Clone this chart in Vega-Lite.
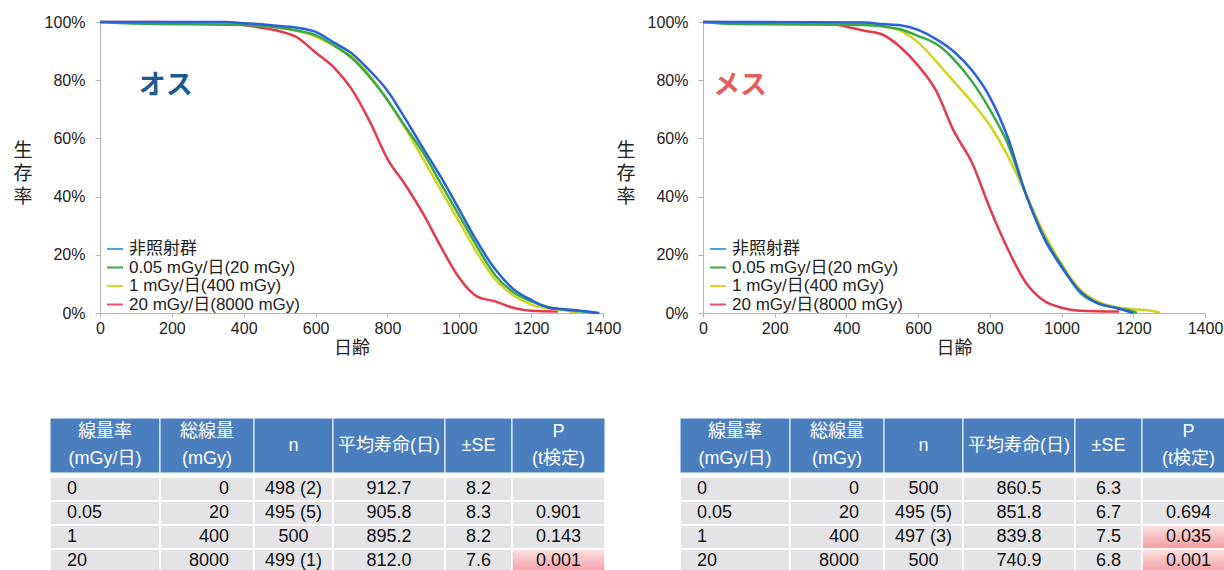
{
  "$schema": "https://vega.github.io/schema/vega-lite/v6.json",
  "background": "#ffffff",
  "padding": {"left": 13, "top": 14, "right": 0, "bottom": 0},
  "config": {
    "font": "Liberation Sans, Noto Sans CJK JP, sans-serif",
    "view": {"stroke": null},
    "axis": {"labelFont": "Liberation Sans, Noto Sans CJK JP, sans-serif", "labelFontSize": 16, "labelColor": "#222222", "domainColor": "#b5b5b5", "tickColor": "#b5b5b5", "grid": false, "titleFont": "Liberation Sans, Noto Sans CJK JP, sans-serif", "titleFontWeight": "normal", "titleColor": "#222222"},
    "legend": {"labelFont": "Liberation Sans, Noto Sans CJK JP, sans-serif"},
    "text": {"font": "Liberation Sans, Noto Sans CJK JP, sans-serif"}
  },
  "datasets": {
    "curves": [
      {"sex":"オス","group":"20 mGy/日(8000 mGy)","day":0,"surv":100},
      {"sex":"オス","group":"20 mGy/日(8000 mGy)","day":350,"surv":99.8},
      {"sex":"オス","group":"20 mGy/日(8000 mGy)","day":400,"surv":99},
      {"sex":"オス","group":"20 mGy/日(8000 mGy)","day":450,"surv":98},
      {"sex":"オス","group":"20 mGy/日(8000 mGy)","day":500,"surv":96.8},
      {"sex":"オス","group":"20 mGy/日(8000 mGy)","day":550,"surv":94.6},
      {"sex":"オス","group":"20 mGy/日(8000 mGy)","day":600,"surv":89.5},
      {"sex":"オス","group":"20 mGy/日(8000 mGy)","day":650,"surv":84.5},
      {"sex":"オス","group":"20 mGy/日(8000 mGy)","day":700,"surv":77},
      {"sex":"オス","group":"20 mGy/日(8000 mGy)","day":750,"surv":66},
      {"sex":"オス","group":"20 mGy/日(8000 mGy)","day":800,"surv":53},
      {"sex":"オス","group":"20 mGy/日(8000 mGy)","day":850,"surv":44},
      {"sex":"オス","group":"20 mGy/日(8000 mGy)","day":900,"surv":34},
      {"sex":"オス","group":"20 mGy/日(8000 mGy)","day":950,"surv":22.5},
      {"sex":"オス","group":"20 mGy/日(8000 mGy)","day":1000,"surv":12},
      {"sex":"オス","group":"20 mGy/日(8000 mGy)","day":1050,"surv":5.6},
      {"sex":"オス","group":"20 mGy/日(8000 mGy)","day":1100,"surv":4},
      {"sex":"オス","group":"20 mGy/日(8000 mGy)","day":1150,"surv":1.8},
      {"sex":"オス","group":"20 mGy/日(8000 mGy)","day":1200,"surv":0.75},
      {"sex":"オス","group":"20 mGy/日(8000 mGy)","day":1275,"surv":0.5},
      {"sex":"オス","group":"1 mGy/日(400 mGy)","day":0,"surv":100},
      {"sex":"オス","group":"1 mGy/日(400 mGy)","day":400,"surv":99.5},
      {"sex":"オス","group":"1 mGy/日(400 mGy)","day":500,"surv":98},
      {"sex":"オス","group":"1 mGy/日(400 mGy)","day":550,"surv":97},
      {"sex":"オス","group":"1 mGy/日(400 mGy)","day":600,"surv":95},
      {"sex":"オス","group":"1 mGy/日(400 mGy)","day":650,"surv":92},
      {"sex":"オス","group":"1 mGy/日(400 mGy)","day":700,"surv":88.2},
      {"sex":"オス","group":"1 mGy/日(400 mGy)","day":750,"surv":81.8},
      {"sex":"オス","group":"1 mGy/日(400 mGy)","day":800,"surv":73.2},
      {"sex":"オス","group":"1 mGy/日(400 mGy)","day":850,"surv":63.5},
      {"sex":"オス","group":"1 mGy/日(400 mGy)","day":900,"surv":52.8},
      {"sex":"オス","group":"1 mGy/日(400 mGy)","day":950,"surv":42},
      {"sex":"オス","group":"1 mGy/日(400 mGy)","day":1000,"surv":31.3},
      {"sex":"オス","group":"1 mGy/日(400 mGy)","day":1050,"surv":20.6},
      {"sex":"オス","group":"1 mGy/日(400 mGy)","day":1100,"surv":11.5},
      {"sex":"オス","group":"1 mGy/日(400 mGy)","day":1150,"surv":6.1},
      {"sex":"オス","group":"1 mGy/日(400 mGy)","day":1200,"surv":2.9},
      {"sex":"オス","group":"1 mGy/日(400 mGy)","day":1250,"surv":1.5},
      {"sex":"オス","group":"1 mGy/日(400 mGy)","day":1300,"surv":0.8},
      {"sex":"オス","group":"1 mGy/日(400 mGy)","day":1330,"surv":0},
      {"sex":"オス","group":"0.05 mGy/日(20 mGy)","day":0,"surv":100},
      {"sex":"オス","group":"0.05 mGy/日(20 mGy)","day":90,"surv":99.5},
      {"sex":"オス","group":"0.05 mGy/日(20 mGy)","day":400,"surv":99},
      {"sex":"オス","group":"0.05 mGy/日(20 mGy)","day":500,"surv":98},
      {"sex":"オス","group":"0.05 mGy/日(20 mGy)","day":550,"surv":97},
      {"sex":"オス","group":"0.05 mGy/日(20 mGy)","day":600,"surv":95.5},
      {"sex":"オス","group":"0.05 mGy/日(20 mGy)","day":650,"surv":92},
      {"sex":"オス","group":"0.05 mGy/日(20 mGy)","day":700,"surv":87.7},
      {"sex":"オス","group":"0.05 mGy/日(20 mGy)","day":750,"surv":81.2},
      {"sex":"オス","group":"0.05 mGy/日(20 mGy)","day":800,"surv":73.2},
      {"sex":"オス","group":"0.05 mGy/日(20 mGy)","day":850,"surv":64},
      {"sex":"オス","group":"0.05 mGy/日(20 mGy)","day":900,"surv":55},
      {"sex":"オス","group":"0.05 mGy/日(20 mGy)","day":950,"surv":44.2},
      {"sex":"オス","group":"0.05 mGy/日(20 mGy)","day":1000,"surv":33.5},
      {"sex":"オス","group":"0.05 mGy/日(20 mGy)","day":1050,"surv":22.7},
      {"sex":"オス","group":"0.05 mGy/日(20 mGy)","day":1100,"surv":13},
      {"sex":"オス","group":"0.05 mGy/日(20 mGy)","day":1150,"surv":7.2},
      {"sex":"オス","group":"0.05 mGy/日(20 mGy)","day":1200,"surv":4},
      {"sex":"オス","group":"0.05 mGy/日(20 mGy)","day":1250,"surv":2},
      {"sex":"オス","group":"0.05 mGy/日(20 mGy)","day":1300,"surv":1},
      {"sex":"オス","group":"0.05 mGy/日(20 mGy)","day":1350,"surv":0.4},
      {"sex":"オス","group":"0.05 mGy/日(20 mGy)","day":1380,"surv":0},
      {"sex":"オス","group":"非照射群","day":0,"surv":100},
      {"sex":"オス","group":"非照射群","day":350,"surv":100},
      {"sex":"オス","group":"非照射群","day":400,"surv":99.6},
      {"sex":"オス","group":"非照射群","day":450,"surv":99.2},
      {"sex":"オス","group":"非照射群","day":500,"surv":98.6},
      {"sex":"オス","group":"非照射群","day":550,"surv":98},
      {"sex":"オス","group":"非照射群","day":600,"surv":96.6},
      {"sex":"オス","group":"非照射群","day":650,"surv":93},
      {"sex":"オス","group":"非照射群","day":700,"surv":89.3},
      {"sex":"オス","group":"非照射群","day":750,"surv":83.4},
      {"sex":"オス","group":"非照射群","day":800,"surv":76.4},
      {"sex":"オス","group":"非照射群","day":850,"surv":66.7},
      {"sex":"オス","group":"非照射群","day":900,"surv":56.5},
      {"sex":"オス","group":"非照射群","day":950,"surv":46.5},
      {"sex":"オス","group":"非照射群","day":1000,"surv":35.5},
      {"sex":"オス","group":"非照射群","day":1050,"surv":24.5},
      {"sex":"オス","group":"非照射群","day":1100,"surv":15},
      {"sex":"オス","group":"非照射群","day":1150,"surv":8.3},
      {"sex":"オス","group":"非照射群","day":1200,"surv":4.5},
      {"sex":"オス","group":"非照射群","day":1250,"surv":1.8},
      {"sex":"オス","group":"非照射群","day":1300,"surv":1.2},
      {"sex":"オス","group":"非照射群","day":1350,"surv":0.6},
      {"sex":"オス","group":"非照射群","day":1390,"surv":0},
      {"sex":"メス","group":"20 mGy/日(8000 mGy)","day":0,"surv":100},
      {"sex":"メス","group":"20 mGy/日(8000 mGy)","day":350,"surv":99.5},
      {"sex":"メス","group":"20 mGy/日(8000 mGy)","day":400,"surv":98.4},
      {"sex":"メス","group":"20 mGy/日(8000 mGy)","day":450,"surv":97},
      {"sex":"メス","group":"20 mGy/日(8000 mGy)","day":500,"surv":95.7},
      {"sex":"メス","group":"20 mGy/日(8000 mGy)","day":550,"surv":91.4},
      {"sex":"メス","group":"20 mGy/日(8000 mGy)","day":600,"surv":85},
      {"sex":"メス","group":"20 mGy/日(8000 mGy)","day":650,"surv":76.4},
      {"sex":"メス","group":"20 mGy/日(8000 mGy)","day":700,"surv":62.4},
      {"sex":"メス","group":"20 mGy/日(8000 mGy)","day":750,"surv":51.7},
      {"sex":"メス","group":"20 mGy/日(8000 mGy)","day":800,"surv":36},
      {"sex":"メス","group":"20 mGy/日(8000 mGy)","day":850,"surv":22},
      {"sex":"メス","group":"20 mGy/日(8000 mGy)","day":900,"surv":10.5},
      {"sex":"メス","group":"20 mGy/日(8000 mGy)","day":950,"surv":4.3},
      {"sex":"メス","group":"20 mGy/日(8000 mGy)","day":1000,"surv":1.8},
      {"sex":"メス","group":"20 mGy/日(8000 mGy)","day":1050,"surv":0.8},
      {"sex":"メス","group":"20 mGy/日(8000 mGy)","day":1160,"surv":0.5},
      {"sex":"メス","group":"1 mGy/日(400 mGy)","day":0,"surv":100},
      {"sex":"メス","group":"1 mGy/日(400 mGy)","day":400,"surv":99.5},
      {"sex":"メス","group":"1 mGy/日(400 mGy)","day":500,"surv":98.5},
      {"sex":"メス","group":"1 mGy/日(400 mGy)","day":550,"surv":97},
      {"sex":"メス","group":"1 mGy/日(400 mGy)","day":600,"surv":93},
      {"sex":"メス","group":"1 mGy/日(400 mGy)","day":650,"surv":86.5},
      {"sex":"メス","group":"1 mGy/日(400 mGy)","day":700,"surv":79.5},
      {"sex":"メス","group":"1 mGy/日(400 mGy)","day":750,"surv":72.5},
      {"sex":"メス","group":"1 mGy/日(400 mGy)","day":800,"surv":64.5},
      {"sex":"メス","group":"1 mGy/日(400 mGy)","day":850,"surv":54},
      {"sex":"メス","group":"1 mGy/日(400 mGy)","day":900,"surv":41},
      {"sex":"メス","group":"1 mGy/日(400 mGy)","day":950,"surv":27.6},
      {"sex":"メス","group":"1 mGy/日(400 mGy)","day":1000,"surv":16.8},
      {"sex":"メス","group":"1 mGy/日(400 mGy)","day":1050,"surv":8.3},
      {"sex":"メス","group":"1 mGy/日(400 mGy)","day":1100,"surv":4},
      {"sex":"メス","group":"1 mGy/日(400 mGy)","day":1150,"surv":2.1},
      {"sex":"メス","group":"1 mGy/日(400 mGy)","day":1200,"surv":1.3},
      {"sex":"メス","group":"1 mGy/日(400 mGy)","day":1250,"surv":0.8},
      {"sex":"メス","group":"1 mGy/日(400 mGy)","day":1275,"surv":0},
      {"sex":"メス","group":"0.05 mGy/日(20 mGy)","day":0,"surv":100},
      {"sex":"メス","group":"0.05 mGy/日(20 mGy)","day":85,"surv":99.3},
      {"sex":"メス","group":"0.05 mGy/日(20 mGy)","day":450,"surv":99},
      {"sex":"メス","group":"0.05 mGy/日(20 mGy)","day":500,"surv":98.5},
      {"sex":"メス","group":"0.05 mGy/日(20 mGy)","day":550,"surv":97.5},
      {"sex":"メス","group":"0.05 mGy/日(20 mGy)","day":600,"surv":95.2},
      {"sex":"メス","group":"0.05 mGy/日(20 mGy)","day":650,"surv":92.5},
      {"sex":"メス","group":"0.05 mGy/日(20 mGy)","day":700,"surv":87.1},
      {"sex":"メス","group":"0.05 mGy/日(20 mGy)","day":750,"surv":79.6},
      {"sex":"メス","group":"0.05 mGy/日(20 mGy)","day":800,"surv":69.9},
      {"sex":"メス","group":"0.05 mGy/日(20 mGy)","day":850,"surv":58.2},
      {"sex":"メス","group":"0.05 mGy/日(20 mGy)","day":900,"surv":41},
      {"sex":"メス","group":"0.05 mGy/日(20 mGy)","day":950,"surv":26.5},
      {"sex":"メス","group":"0.05 mGy/日(20 mGy)","day":1000,"surv":16.3},
      {"sex":"メス","group":"0.05 mGy/日(20 mGy)","day":1050,"surv":7.2},
      {"sex":"メス","group":"0.05 mGy/日(20 mGy)","day":1100,"surv":3.4},
      {"sex":"メス","group":"0.05 mGy/日(20 mGy)","day":1150,"surv":1.8},
      {"sex":"メス","group":"0.05 mGy/日(20 mGy)","day":1200,"surv":0.5},
      {"sex":"メス","group":"0.05 mGy/日(20 mGy)","day":1210,"surv":0},
      {"sex":"メス","group":"非照射群","day":0,"surv":100},
      {"sex":"メス","group":"非照射群","day":450,"surv":99.8},
      {"sex":"メス","group":"非照射群","day":500,"surv":99.3},
      {"sex":"メス","group":"非照射群","day":550,"surv":98.9},
      {"sex":"メス","group":"非照射群","day":600,"surv":97.3},
      {"sex":"メス","group":"非照射群","day":650,"surv":94.1},
      {"sex":"メス","group":"非照射群","day":700,"surv":89.8},
      {"sex":"メス","group":"非照射群","day":750,"surv":83.4},
      {"sex":"メス","group":"非照射群","day":800,"surv":74.2},
      {"sex":"メス","group":"非照射群","day":850,"surv":60.3},
      {"sex":"メス","group":"非照射群","day":900,"surv":41},
      {"sex":"メス","group":"非照射群","day":950,"surv":26},
      {"sex":"メス","group":"非照射群","day":1000,"surv":15.8},
      {"sex":"メス","group":"非照射群","day":1050,"surv":7.7},
      {"sex":"メス","group":"非照射群","day":1100,"surv":3.4},
      {"sex":"メス","group":"非照射群","day":1150,"surv":1.8},
      {"sex":"メス","group":"非照射群","day":1200,"surv":0}
    ],
    "table": [
      {"sex":"オス","rate":"0","total":"0","n":"498 (2)","mean":"912.7","se":"8.2","p":""},
      {"sex":"オス","rate":"0.05","total":"20","n":"495 (5)","mean":"905.8","se":"8.3","p":"0.901"},
      {"sex":"オス","rate":"1","total":"400","n":"500","mean":"895.2","se":"8.2","p":"0.143"},
      {"sex":"オス","rate":"20","total":"8000","n":"499 (1)","mean":"812.0","se":"7.6","p":"0.001"},
      {"sex":"メス","rate":"0","total":"0","n":"500","mean":"860.5","se":"6.3","p":""},
      {"sex":"メス","rate":"0.05","total":"20","n":"495 (5)","mean":"851.8","se":"6.7","p":"0.694"},
      {"sex":"メス","rate":"1","total":"400","n":"497 (3)","mean":"839.8","se":"7.5","p":"0.035"},
      {"sex":"メス","rate":"20","total":"8000","n":"500","mean":"740.9","se":"6.8","p":"0.001"}
    ],
    "header": [
      {"col":"rate","line":"1","label":"線量率"},
      {"col":"rate","line":"2","label":"(mGy/日)"},
      {"col":"total","line":"1","label":"総線量"},
      {"col":"total","line":"2","label":"(mGy)"},
      {"col":"n","line":"0","label":"n"},
      {"col":"mean","line":"0","label":"平均寿命(日)"},
      {"col":"se","line":"0","label":"±SE"},
      {"col":"p","line":"1","label":"P"},
      {"col":"p","line":"2","label":"(t検定)"}
    ],
    "blank": [{}]
  },
  "spacing": 60,
  "bounds": "full",
  "vconcat": [
    {
      "spacing": 0, "bounds": "flush",
      "hconcat": [
        {"width": 50, "height": 291, "data": {"name": "blank"}, "mark": {"type": "text"}, "encoding": {"text": {"value": ""}}},
        {
          "width": 503, "height": 291,
          "layer": [
            {
              "data": {"name": "curves"}, "transform": [{"filter": "datum.sex === 'オス'"}],
              "mark": {"type": "line", "strokeWidth": 2.5, "interpolate": "monotone"},
              "encoding": {
                "x": {"field": "day", "type": "quantitative", "scale": {"domain": [0, 1400], "nice": false},
                  "axis": {"values": [0,100,200,300,400,500,600,700,800,900,1000,1100,1200,1300,1400], "labelExpr": "datum.value % 200 === 0 ? datum.label : ''", "format": "d", "tickSize": 4, "labelPadding": 3, "title": "日齢", "titleFontSize": 18, "titlePadding": 3, "labelFlush": false, "labelOverlap": false}},
                "y": {"field": "surv", "type": "quantitative", "scale": {"domain": [0, 100], "nice": false},
                  "axis": {"values": [0,10,20,30,40,50,60,70,80,90,100], "labelExpr": "datum.value % 20 === 0 ? datum.value + '%' : ''", "tickSize": 5, "labelPadding": 10, "title": ["生","存","率"], "titleAngle": 0, "titleAlign": "left", "titleBaseline": "middle", "titleX": -87, "titleY": 128, "titleFontSize": 19, "titleLineHeight": 23, "labelFlush": false, "labelOverlap": false}},
                "color": {"field": "group", "type": "nominal", "scale": {"domain": ["非照射群","0.05 mGy/日(20 mGy)","1 mGy/日(400 mGy)","20 mGy/日(8000 mGy)"], "range": ["#2862d8","#39a947","#d3d21f","#e23b4c"]}, "legend": null}
              }
            },
            {
              "data": {"name": "curves"}, "transform": [{"filter": "false"}],
              "mark": {"type": "line"},
              "encoding": {
                "x": {"field": "day", "type": "quantitative"},
                "y": {"field": "surv", "type": "quantitative"},
                "color": {"field": "group", "type": "nominal", "scale": {"domain": ["非照射群","0.05 mGy/日(20 mGy)","1 mGy/日(400 mGy)","20 mGy/日(8000 mGy)"], "range": ["#45a3e6","#3aaa48","#d8d82a","#e8506a"]},
                  "legend": {"orient": "none", "legendX": 6, "legendY": 218, "title": null, "symbolType": "stroke", "symbolStrokeWidth": 2, "symbolSize": 256, "symbolOpacity": 1, "labelFontSize": 17, "labelColor": "#222222", "labelLimit": 400, "rowPadding": 1.5, "labelOffset": 5}}
              }
            },
            {
              "data": {"name": "blank"},
              "mark": {"type": "text", "text": "オス", "fontSize": 27, "fontWeight": "bold", "color": "#1d5a94", "align": "left", "baseline": "middle"},
              "encoding": {"x": {"datum": 108, "type": "quantitative"}, "y": {"datum": 78, "type": "quantitative"}}
            }
          ],
          "resolve": {"scale": {"color": "independent"}}
        },
        {"width": 100, "height": 291, "data": {"name": "blank"}, "mark": {"type": "text"}, "encoding": {"text": {"value": ""}}},
        {
          "width": 502, "height": 291,
          "layer": [
            {
              "data": {"name": "curves"}, "transform": [{"filter": "datum.sex === 'メス'"}],
              "mark": {"type": "line", "strokeWidth": 2.5, "interpolate": "monotone"},
              "encoding": {
                "x": {"field": "day", "type": "quantitative", "scale": {"domain": [0, 1400], "nice": false},
                  "axis": {"values": [0,100,200,300,400,500,600,700,800,900,1000,1100,1200,1300,1400], "labelExpr": "datum.value % 200 === 0 ? datum.label : ''", "format": "d", "tickSize": 4, "labelPadding": 3, "title": "日齢", "titleFontSize": 18, "titlePadding": 3, "labelFlush": false, "labelOverlap": false}},
                "y": {"field": "surv", "type": "quantitative", "scale": {"domain": [0, 100], "nice": false},
                  "axis": {"values": [0,10,20,30,40,50,60,70,80,90,100], "labelExpr": "datum.value % 20 === 0 ? datum.value + '%' : ''", "tickSize": 5, "labelPadding": 10, "title": ["生","存","率"], "titleAngle": 0, "titleAlign": "left", "titleBaseline": "middle", "titleX": -87, "titleY": 128, "titleFontSize": 19, "titleLineHeight": 23, "labelFlush": false, "labelOverlap": false}},
                "color": {"field": "group", "type": "nominal", "scale": {"domain": ["非照射群","0.05 mGy/日(20 mGy)","1 mGy/日(400 mGy)","20 mGy/日(8000 mGy)"], "range": ["#2862d8","#39a947","#d3d21f","#e23b4c"]}, "legend": null}
              }
            },
            {
              "data": {"name": "curves"}, "transform": [{"filter": "false"}],
              "mark": {"type": "line"},
              "encoding": {
                "x": {"field": "day", "type": "quantitative"},
                "y": {"field": "surv", "type": "quantitative"},
                "color": {"field": "group", "type": "nominal", "scale": {"domain": ["非照射群","0.05 mGy/日(20 mGy)","1 mGy/日(400 mGy)","20 mGy/日(8000 mGy)"], "range": ["#45a3e6","#3aaa48","#d8d82a","#e8506a"]},
                  "legend": {"orient": "none", "legendX": 6, "legendY": 218, "title": null, "symbolType": "stroke", "symbolStrokeWidth": 2, "symbolSize": 256, "symbolOpacity": 1, "labelFontSize": 17, "labelColor": "#222222", "labelLimit": 400, "rowPadding": 1.5, "labelOffset": 5}}
              }
            },
            {
              "data": {"name": "blank"},
              "mark": {"type": "text", "text": "メス", "fontSize": 27, "fontWeight": "bold", "color": "#e2605c", "align": "left", "baseline": "middle"},
              "encoding": {"x": {"datum": 28, "type": "quantitative"}, "y": {"datum": 78, "type": "quantitative"}}
            }
          ],
          "resolve": {"scale": {"color": "independent"}}
        }
      ]
    },
    {
      "spacing": 2, "bounds": "full",
      "vconcat": [
        {
          "spacing": 0, "bounds": "flush",
          "hconcat": [
            {"width": 110, "height": 55, "data": {"name": "header"}, "transform": [{"filter": "datum.col === 'rate'"}], "layer": [{"transform": [{"filter": "datum.line !== '2'"}], "mark": {"type": "rect", "fill": "#4a7ebf", "stroke": "#ffffff", "strokeWidth": 1}, "encoding": {}}, {"transform": [{"filter": "datum.line === '0'"}], "mark": {"type": "text", "color": "#ffffff", "fontSize": 18}, "encoding": {"text": {"field": "label"}}}, {"transform": [{"filter": "datum.line !== '0'"}], "mark": {"type": "text", "color": "#ffffff", "fontSize": 18}, "encoding": {"text": {"field": "label"}, "y": {"field": "line", "type": "nominal", "axis": null, "scale": {"domain": ["1", "2"], "paddingInner": 0, "paddingOuter": 0.25}}}}]},
            {"width": 94, "height": 55, "data": {"name": "header"}, "transform": [{"filter": "datum.col === 'total'"}], "layer": [{"transform": [{"filter": "datum.line !== '2'"}], "mark": {"type": "rect", "fill": "#4a7ebf", "stroke": "#ffffff", "strokeWidth": 1}, "encoding": {}}, {"transform": [{"filter": "datum.line === '0'"}], "mark": {"type": "text", "color": "#ffffff", "fontSize": 18}, "encoding": {"text": {"field": "label"}}}, {"transform": [{"filter": "datum.line !== '0'"}], "mark": {"type": "text", "color": "#ffffff", "fontSize": 18}, "encoding": {"text": {"field": "label"}, "y": {"field": "line", "type": "nominal", "axis": null, "scale": {"domain": ["1", "2"], "paddingInner": 0, "paddingOuter": 0.25}}}}]},
            {"width": 79, "height": 55, "data": {"name": "header"}, "transform": [{"filter": "datum.col === 'n'"}], "layer": [{"transform": [{"filter": "datum.line !== '2'"}], "mark": {"type": "rect", "fill": "#4a7ebf", "stroke": "#ffffff", "strokeWidth": 1}, "encoding": {}}, {"transform": [{"filter": "datum.line === '0'"}], "mark": {"type": "text", "color": "#ffffff", "fontSize": 18}, "encoding": {"text": {"field": "label"}}}]},
            {"width": 112, "height": 55, "data": {"name": "header"}, "transform": [{"filter": "datum.col === 'mean'"}], "layer": [{"transform": [{"filter": "datum.line !== '2'"}], "mark": {"type": "rect", "fill": "#4a7ebf", "stroke": "#ffffff", "strokeWidth": 1}, "encoding": {}}, {"transform": [{"filter": "datum.line === '0'"}], "mark": {"type": "text", "color": "#ffffff", "fontSize": 18}, "encoding": {"text": {"field": "label"}}}]},
            {"width": 67, "height": 55, "data": {"name": "header"}, "transform": [{"filter": "datum.col === 'se'"}], "layer": [{"transform": [{"filter": "datum.line !== '2'"}], "mark": {"type": "rect", "fill": "#4a7ebf", "stroke": "#ffffff", "strokeWidth": 1}, "encoding": {}}, {"transform": [{"filter": "datum.line === '0'"}], "mark": {"type": "text", "color": "#ffffff", "fontSize": 18}, "encoding": {"text": {"field": "label"}}}]},
            {"width": 93, "height": 55, "data": {"name": "header"}, "transform": [{"filter": "datum.col === 'p'"}], "layer": [{"transform": [{"filter": "datum.line !== '2'"}], "mark": {"type": "rect", "fill": "#4a7ebf", "stroke": "#ffffff", "strokeWidth": 1}, "encoding": {}}, {"transform": [{"filter": "datum.line === '0'"}], "mark": {"type": "text", "color": "#ffffff", "fontSize": 18}, "encoding": {"text": {"field": "label"}}}, {"transform": [{"filter": "datum.line !== '0'"}], "mark": {"type": "text", "color": "#ffffff", "fontSize": 18}, "encoding": {"text": {"field": "label"}, "y": {"field": "line", "type": "nominal", "axis": null, "scale": {"domain": ["1", "2"], "paddingInner": 0, "paddingOuter": 0.25}}}}]},
            {"width": 75, "height": 55, "data": {"name": "blank"}, "mark": {"type": "text"}, "encoding": {"text": {"value": ""}}},
            {"width": 110, "height": 55, "data": {"name": "header"}, "transform": [{"filter": "datum.col === 'rate'"}], "layer": [{"transform": [{"filter": "datum.line !== '2'"}], "mark": {"type": "rect", "fill": "#4a7ebf", "stroke": "#ffffff", "strokeWidth": 1}, "encoding": {}}, {"transform": [{"filter": "datum.line === '0'"}], "mark": {"type": "text", "color": "#ffffff", "fontSize": 18}, "encoding": {"text": {"field": "label"}}}, {"transform": [{"filter": "datum.line !== '0'"}], "mark": {"type": "text", "color": "#ffffff", "fontSize": 18}, "encoding": {"text": {"field": "label"}, "y": {"field": "line", "type": "nominal", "axis": null, "scale": {"domain": ["1", "2"], "paddingInner": 0, "paddingOuter": 0.25}}}}]},
            {"width": 94, "height": 55, "data": {"name": "header"}, "transform": [{"filter": "datum.col === 'total'"}], "layer": [{"transform": [{"filter": "datum.line !== '2'"}], "mark": {"type": "rect", "fill": "#4a7ebf", "stroke": "#ffffff", "strokeWidth": 1}, "encoding": {}}, {"transform": [{"filter": "datum.line === '0'"}], "mark": {"type": "text", "color": "#ffffff", "fontSize": 18}, "encoding": {"text": {"field": "label"}}}, {"transform": [{"filter": "datum.line !== '0'"}], "mark": {"type": "text", "color": "#ffffff", "fontSize": 18}, "encoding": {"text": {"field": "label"}, "y": {"field": "line", "type": "nominal", "axis": null, "scale": {"domain": ["1", "2"], "paddingInner": 0, "paddingOuter": 0.25}}}}]},
            {"width": 79, "height": 55, "data": {"name": "header"}, "transform": [{"filter": "datum.col === 'n'"}], "layer": [{"transform": [{"filter": "datum.line !== '2'"}], "mark": {"type": "rect", "fill": "#4a7ebf", "stroke": "#ffffff", "strokeWidth": 1}, "encoding": {}}, {"transform": [{"filter": "datum.line === '0'"}], "mark": {"type": "text", "color": "#ffffff", "fontSize": 18}, "encoding": {"text": {"field": "label"}}}]},
            {"width": 112, "height": 55, "data": {"name": "header"}, "transform": [{"filter": "datum.col === 'mean'"}], "layer": [{"transform": [{"filter": "datum.line !== '2'"}], "mark": {"type": "rect", "fill": "#4a7ebf", "stroke": "#ffffff", "strokeWidth": 1}, "encoding": {}}, {"transform": [{"filter": "datum.line === '0'"}], "mark": {"type": "text", "color": "#ffffff", "fontSize": 18}, "encoding": {"text": {"field": "label"}}}]},
            {"width": 67, "height": 55, "data": {"name": "header"}, "transform": [{"filter": "datum.col === 'se'"}], "layer": [{"transform": [{"filter": "datum.line !== '2'"}], "mark": {"type": "rect", "fill": "#4a7ebf", "stroke": "#ffffff", "strokeWidth": 1}, "encoding": {}}, {"transform": [{"filter": "datum.line === '0'"}], "mark": {"type": "text", "color": "#ffffff", "fontSize": 18}, "encoding": {"text": {"field": "label"}}}]},
            {"width": 93, "height": 55, "data": {"name": "header"}, "transform": [{"filter": "datum.col === 'p'"}], "layer": [{"transform": [{"filter": "datum.line !== '2'"}], "mark": {"type": "rect", "fill": "#4a7ebf", "stroke": "#ffffff", "strokeWidth": 1}, "encoding": {}}, {"transform": [{"filter": "datum.line === '0'"}], "mark": {"type": "text", "color": "#ffffff", "fontSize": 18}, "encoding": {"text": {"field": "label"}}}, {"transform": [{"filter": "datum.line !== '0'"}], "mark": {"type": "text", "color": "#ffffff", "fontSize": 18}, "encoding": {"text": {"field": "label"}, "y": {"field": "line", "type": "nominal", "axis": null, "scale": {"domain": ["1", "2"], "paddingInner": 0, "paddingOuter": 0.25}}}}]}
          ]
        },
        {
          "spacing": 0, "bounds": "flush",
          "hconcat": [
            {"width": 110, "height": 96, "data": {"name": "table"}, "transform": [{"filter": "datum.sex === 'オス'"}], "encoding": {"y": {"field": "rate", "type": "nominal", "sort": null, "axis": null, "scale": {"paddingInner": 0, "paddingOuter": 0}}}, "layer": [{"mark": {"type": "rect", "fill": "#e4e4e7", "stroke": "#ffffff", "strokeWidth": 1.5}}, {"mark": {"type": "text", "fontSize": 18, "color": "#111111", "align": "left", "dx": -38}, "encoding": {"text": {"field": "rate"}}}]},
            {"width": 94, "height": 96, "data": {"name": "table"}, "transform": [{"filter": "datum.sex === 'オス'"}], "encoding": {"y": {"field": "rate", "type": "nominal", "sort": null, "axis": null, "scale": {"paddingInner": 0, "paddingOuter": 0}}}, "layer": [{"mark": {"type": "rect", "fill": "#e4e4e7", "stroke": "#ffffff", "strokeWidth": 1.5}}, {"mark": {"type": "text", "fontSize": 18, "color": "#111111", "align": "right", "dx": 22}, "encoding": {"text": {"field": "total"}}}]},
            {"width": 79, "height": 96, "data": {"name": "table"}, "transform": [{"filter": "datum.sex === 'オス'"}], "encoding": {"y": {"field": "rate", "type": "nominal", "sort": null, "axis": null, "scale": {"paddingInner": 0, "paddingOuter": 0}}}, "layer": [{"mark": {"type": "rect", "fill": "#e4e4e7", "stroke": "#ffffff", "strokeWidth": 1.5}}, {"mark": {"type": "text", "fontSize": 18, "color": "#111111"}, "encoding": {"text": {"field": "n"}}}]},
            {"width": 112, "height": 96, "data": {"name": "table"}, "transform": [{"filter": "datum.sex === 'オス'"}], "encoding": {"y": {"field": "rate", "type": "nominal", "sort": null, "axis": null, "scale": {"paddingInner": 0, "paddingOuter": 0}}}, "layer": [{"mark": {"type": "rect", "fill": "#e4e4e7", "stroke": "#ffffff", "strokeWidth": 1.5}}, {"mark": {"type": "text", "fontSize": 18, "color": "#111111"}, "encoding": {"text": {"field": "mean"}}}]},
            {"width": 67, "height": 96, "data": {"name": "table"}, "transform": [{"filter": "datum.sex === 'オス'"}], "encoding": {"y": {"field": "rate", "type": "nominal", "sort": null, "axis": null, "scale": {"paddingInner": 0, "paddingOuter": 0}}}, "layer": [{"mark": {"type": "rect", "fill": "#e4e4e7", "stroke": "#ffffff", "strokeWidth": 1.5}}, {"mark": {"type": "text", "fontSize": 18, "color": "#111111"}, "encoding": {"text": {"field": "se"}}}]},
            {"width": 93, "height": 96, "data": {"name": "table"}, "transform": [{"filter": "datum.sex === 'オス'"}], "encoding": {"y": {"field": "rate", "type": "nominal", "sort": null, "axis": null, "scale": {"paddingInner": 0, "paddingOuter": 0}}}, "layer": [{"mark": {"type": "rect", "fill": "#e4e4e7", "stroke": "#ffffff", "strokeWidth": 1.5}}, {"transform": [{"filter": "datum.p !== '' && toNumber(datum.p) < 0.05"}], "mark": {"type": "rect", "stroke": "#ffffff", "strokeWidth": 1.5, "fill": {"gradient": "linear", "x1": 0, "y1": 0, "x2": 0, "y2": 1, "stops": [{"offset": 0, "color": "#fde2e3"}, {"offset": 1, "color": "#f39ca2"}]}}}, {"mark": {"type": "text", "fontSize": 18, "color": "#111111"}, "encoding": {"text": {"field": "p"}}}]},
            {"width": 75, "height": 96, "data": {"name": "blank"}, "mark": {"type": "text"}, "encoding": {"text": {"value": ""}}},
            {"width": 110, "height": 96, "data": {"name": "table"}, "transform": [{"filter": "datum.sex === 'メス'"}], "encoding": {"y": {"field": "rate", "type": "nominal", "sort": null, "axis": null, "scale": {"paddingInner": 0, "paddingOuter": 0}}}, "layer": [{"mark": {"type": "rect", "fill": "#e4e4e7", "stroke": "#ffffff", "strokeWidth": 1.5}}, {"mark": {"type": "text", "fontSize": 18, "color": "#111111", "align": "left", "dx": -38}, "encoding": {"text": {"field": "rate"}}}]},
            {"width": 94, "height": 96, "data": {"name": "table"}, "transform": [{"filter": "datum.sex === 'メス'"}], "encoding": {"y": {"field": "rate", "type": "nominal", "sort": null, "axis": null, "scale": {"paddingInner": 0, "paddingOuter": 0}}}, "layer": [{"mark": {"type": "rect", "fill": "#e4e4e7", "stroke": "#ffffff", "strokeWidth": 1.5}}, {"mark": {"type": "text", "fontSize": 18, "color": "#111111", "align": "right", "dx": 22}, "encoding": {"text": {"field": "total"}}}]},
            {"width": 79, "height": 96, "data": {"name": "table"}, "transform": [{"filter": "datum.sex === 'メス'"}], "encoding": {"y": {"field": "rate", "type": "nominal", "sort": null, "axis": null, "scale": {"paddingInner": 0, "paddingOuter": 0}}}, "layer": [{"mark": {"type": "rect", "fill": "#e4e4e7", "stroke": "#ffffff", "strokeWidth": 1.5}}, {"mark": {"type": "text", "fontSize": 18, "color": "#111111"}, "encoding": {"text": {"field": "n"}}}]},
            {"width": 112, "height": 96, "data": {"name": "table"}, "transform": [{"filter": "datum.sex === 'メス'"}], "encoding": {"y": {"field": "rate", "type": "nominal", "sort": null, "axis": null, "scale": {"paddingInner": 0, "paddingOuter": 0}}}, "layer": [{"mark": {"type": "rect", "fill": "#e4e4e7", "stroke": "#ffffff", "strokeWidth": 1.5}}, {"mark": {"type": "text", "fontSize": 18, "color": "#111111"}, "encoding": {"text": {"field": "mean"}}}]},
            {"width": 67, "height": 96, "data": {"name": "table"}, "transform": [{"filter": "datum.sex === 'メス'"}], "encoding": {"y": {"field": "rate", "type": "nominal", "sort": null, "axis": null, "scale": {"paddingInner": 0, "paddingOuter": 0}}}, "layer": [{"mark": {"type": "rect", "fill": "#e4e4e7", "stroke": "#ffffff", "strokeWidth": 1.5}}, {"mark": {"type": "text", "fontSize": 18, "color": "#111111"}, "encoding": {"text": {"field": "se"}}}]},
            {"width": 93, "height": 96, "data": {"name": "table"}, "transform": [{"filter": "datum.sex === 'メス'"}], "encoding": {"y": {"field": "rate", "type": "nominal", "sort": null, "axis": null, "scale": {"paddingInner": 0, "paddingOuter": 0}}}, "layer": [{"mark": {"type": "rect", "fill": "#e4e4e7", "stroke": "#ffffff", "strokeWidth": 1.5}}, {"transform": [{"filter": "datum.p !== '' && toNumber(datum.p) < 0.05"}], "mark": {"type": "rect", "stroke": "#ffffff", "strokeWidth": 1.5, "fill": {"gradient": "linear", "x1": 0, "y1": 0, "x2": 0, "y2": 1, "stops": [{"offset": 0, "color": "#fde2e3"}, {"offset": 1, "color": "#f39ca2"}]}}}, {"mark": {"type": "text", "fontSize": 18, "color": "#111111"}, "encoding": {"text": {"field": "p"}}}]}
          ]
        }
      ]
    }
  ]
}
